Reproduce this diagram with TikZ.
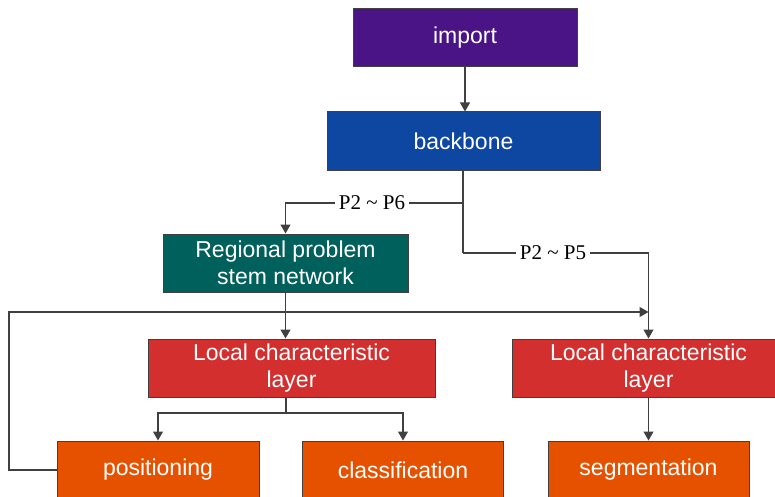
\documentclass[tikz,border=0pt]{standalone}
\usepackage{fontspec}
\setmainfont{Liberation Sans}
\newfontfamily\labelfont{Liberation Serif}
\usetikzlibrary{positioning,arrows.meta}
\definecolor{importcol}{HTML}{4A1486}
\definecolor{backbonecol}{HTML}{0D47A1}
\definecolor{stemcol}{HTML}{00605C}
\definecolor{layercol}{HTML}{D32F2F}
\definecolor{headcol}{HTML}{E65100}
\definecolor{linecol}{HTML}{404040}
\begin{document}
\begin{tikzpicture}[x=1pt,y=-1pt,
        box/.style={draw=linecol,line width=1pt,minimum height=58pt,inner sep=0pt,
            text=white,align=center,font=\fontsize{23}{27}\selectfont},
        link/.style={draw=linecol,line width=1.2pt},
        arr/.style={link,-{Triangle[length=9pt,width=10pt]}},
        tag/.style={fill=white,inner sep=4pt,font=\labelfont\fontsize{21}{24}\selectfont}]
    \useasboundingbox (0,0) rectangle (775,497);
    \begin{scope}
        \node[box,fill=importcol,minimum width=224pt] (import) at (465,38) {import};
        \node[box,fill=backbonecol,minimum width=273pt] (backbone) at (463.5,141) {backbone};
        \node[box,fill=stemcol,minimum width=245pt] (stem) at (285.5,263) {Regional problem\\stem network};
    \end{scope}
    \begin{scope}
        \node[box,fill=layercol,minimum width=287pt] (layerl) at (291.5,368) {Local characteristic\\layer};
        \node[box,fill=layercol,minimum width=273pt] (layerr) at (648.5,368) {Local characteristic\\layer};
    \end{scope}
    \begin{scope}
        \node[box,fill=headcol,minimum width=202pt] (pos) at (158,470) {positioning};
        \node[box,fill=headcol,minimum width=201pt] (cls) at (403,470) {classification};
        \node[box,fill=headcol,minimum width=201pt] (seg) at (648.5,470) {segmentation};
    \end{scope}
    % backbone outputs
    \coordinate (s1) at (463,203);
    \coordinate (s2) at (463,253);
    \coordinate (s3) at (286,413);
    \coordinate (fb) at (9,312);
    \draw[arr] (import) -- (import |- backbone.north);
    \draw[link] (backbone.south -| s1) -- (s2);
    \draw[arr] (s1) -| (stem.north);
    \draw[arr] (s2) -| (layerr.north);
    \node[tag] (p6) at (372,203) {P2 \textasciitilde{} P6};
    \node[tag] (p5) at (553,253) {P2 \textasciitilde{} P5};
    % heads
    \draw[arr] (stem.south) -- (stem.south |- layerl.north);
    \draw[link] (s3 |- layerl.south) -- (s3);
    \draw[arr] (s3) -| (pos.north);
    \draw[arr] (s3) -| (cls.north);
    \draw[arr] (layerr.south) -- (seg.north);
    % feedback
    \draw[arr] (pos.west) -| (fb) -- (fb -| layerr.north);
\end{tikzpicture}
\end{document}
